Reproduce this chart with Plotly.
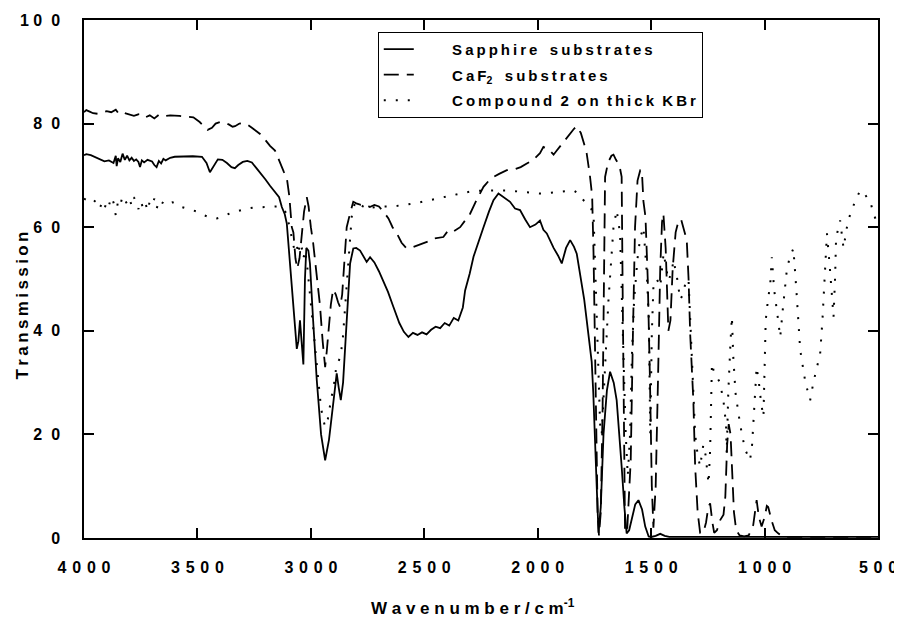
import plotly.graph_objects as go

# Sapphire substrates (solid line)
sapphire_wn = [4000, 3990, 3970, 3950, 3930, 3910, 3890, 3870, 3860, 3856, 3850, 3840, 3830, 3820, 3810,
               3800, 3790, 3780, 3770, 3760, 3753, 3745, 3735, 3720, 3700, 3690, 3680, 3670, 3660, 3650,
               3640, 3620, 3600, 3560, 3520, 3480, 3460, 3445, 3430, 3410, 3390, 3370, 3350, 3335, 3320,
               3300, 3280, 3260, 3240, 3220, 3200, 3180, 3160, 3140, 3128, 3115, 3106, 3095, 3084, 3072,
               3062, 3055, 3048, 3040, 3033, 3026, 3020, 3011, 3004, 2990, 2974, 2955, 2937, 2920, 2908,
               2896, 2886, 2877, 2868, 2858, 2849, 2838, 2827, 2813, 2800, 2783, 2768, 2754, 2739, 2720,
               2700, 2680, 2660, 2636, 2610, 2590, 2570, 2550, 2530, 2510, 2490, 2470, 2450, 2430, 2410,
               2390, 2370, 2350, 2330, 2320, 2300, 2283, 2260, 2239, 2215, 2195, 2173, 2150, 2122, 2100,
               2078, 2055, 2034, 2010, 1990, 1975, 1960, 1930, 1910, 1894, 1875, 1857, 1840, 1828, 1810,
               1795, 1784, 1770, 1762, 1755, 1747, 1740, 1732, 1722, 1710, 1695, 1681, 1665, 1652, 1640,
               1630, 1618, 1608, 1597, 1585, 1570, 1556, 1540, 1526, 1511, 1500, 1480, 1460, 1440, 1420,
               1400, 1300, 1200, 1100, 1000, 900, 800, 700, 600, 500]
sapphire_t = [73.9, 74.1, 73.9, 73.5, 73.0, 72.7, 72.9, 72.4, 73.8, 71.8, 73.3, 72.6, 74.2, 73.0, 73.8,
              72.9, 73.4, 72.8, 73.1, 72.6, 71.6, 72.9, 72.5, 73.0, 72.7, 72.0, 71.6, 72.8, 72.3, 73.2,
              72.9, 73.4, 73.6, 73.7, 73.7, 73.6, 72.4, 70.6, 71.8, 73.1, 73.0, 72.4, 71.6, 71.4, 72.0,
              72.6, 72.8, 72.5, 71.4, 70.4, 69.2, 68.0, 67.0, 65.8, 63.9, 62.5, 60.7, 55.0, 49.8, 42.0,
              36.5, 38.0, 42.0, 37.0, 33.5, 50.0, 56.0, 55.5, 53.0, 42.0, 30.5, 20.0, 15.0, 19.0, 24.0,
              29.0, 31.8, 29.0, 26.6, 30.0, 37.0, 46.0, 53.0, 55.9, 56.0, 55.5, 54.2, 53.3, 54.2, 53.2,
              51.5, 49.5, 47.5, 44.6, 41.5, 39.8, 38.8, 39.6, 39.2, 39.7, 39.3, 40.2, 40.8, 40.5, 41.5,
              41.0, 42.5, 42.0, 44.5, 47.8, 51.0, 54.3, 57.5, 60.0, 63.0, 65.2, 66.5, 65.8, 64.9, 63.6,
              63.3, 61.5, 60.0, 60.5, 61.3, 59.5, 58.8, 56.0, 54.5, 53.0, 56.0, 57.5, 56.2, 54.9, 50.0,
              46.0, 42.0, 37.5, 34.0, 28.0, 20.0, 10.0, 1.0, 6.0, 20.0, 28.5, 32.1, 30.0, 26.6, 20.0,
              13.8, 6.0, 0.9, 1.5, 3.5, 6.5, 7.3, 5.5, 2.2, 0.3, 0.2, 0.4, 0.8, 0.4, 0.2,
              0.2, 0.2, 0.2, 0.2, 0.2, 0.2, 0.2, 0.2, 0.2, 0.2]

# CaF2 substrates (dashed line)
caf2_wn = [4000, 3990, 3975, 3960, 3940, 3920, 3900, 3880, 3860, 3850, 3840, 3820, 3800, 3780, 3760,
           3747, 3730, 3710, 3690, 3670, 3650, 3620, 3580, 3540, 3518, 3490, 3470, 3455, 3436, 3420,
           3400, 3380, 3360, 3345, 3334, 3315, 3298, 3280, 3260, 3240, 3224, 3200, 3180, 3158, 3140,
           3120, 3106, 3095, 3084, 3077, 3068, 3060, 3050, 3040, 3030, 3018, 3010, 3000, 2990, 2980,
           2970, 2960, 2948, 2937, 2930, 2923, 2912, 2902, 2890, 2880, 2871, 2862, 2855, 2842, 2827,
           2813, 2800, 2780, 2760, 2740, 2720, 2700, 2680, 2658, 2640, 2621, 2600, 2580, 2560, 2540,
           2520, 2504, 2480, 2460, 2440, 2416, 2394, 2370, 2342, 2320, 2298, 2270, 2239, 2215, 2195,
           2170, 2136, 2100, 2075, 2048, 2020, 1990, 1975, 1950, 1930, 1916, 1895, 1875, 1857, 1840,
           1828, 1810, 1795, 1784, 1770, 1760, 1754, 1748, 1742, 1736, 1730, 1722, 1714, 1708, 1703,
           1690, 1675, 1666, 1655, 1640, 1630, 1625, 1620, 1615, 1605, 1590, 1580, 1571, 1560, 1548,
           1541, 1534, 1525, 1515, 1505, 1497, 1490, 1480, 1470, 1460, 1452, 1446, 1436, 1424, 1415,
           1405, 1392, 1379, 1368, 1356, 1343, 1335, 1328, 1314, 1306, 1295, 1284, 1270, 1258, 1248,
           1240, 1230, 1222, 1210, 1195, 1181, 1173, 1165, 1158, 1150, 1142, 1135, 1125, 1110, 1090,
           1070, 1050, 1042, 1035, 1025, 1013, 1000, 990, 984, 970, 955, 940, 920, 900, 800,
           700, 600, 500]
caf2_t = [82.2, 82.6, 82.3, 82.0, 81.9, 82.1, 82.4, 82.2, 82.7, 82.1, 82.4, 82.0, 81.8, 81.5, 81.8,
          81.3, 81.2, 81.6, 81.0, 81.7, 81.4, 81.6, 81.5, 81.3, 81.2, 80.3, 79.5, 78.8, 79.2, 80.0,
          80.3, 80.2, 79.8, 79.4, 79.5, 80.0, 80.1, 79.8, 79.2, 78.6, 78.0, 76.8, 75.7, 74.8, 72.8,
          70.8, 69.5, 66.0, 60.0, 59.0, 54.0, 52.0, 54.0, 58.0, 63.0, 65.8, 64.0, 60.0, 57.0, 53.0,
          49.0, 45.0, 38.0, 33.0, 36.0, 40.0, 45.0, 48.0, 47.0, 45.5, 44.6, 47.0, 52.0, 60.0, 62.7,
          64.9, 64.6, 64.3, 64.4, 63.9, 64.3, 64.0, 63.0, 61.7, 60.0, 58.8, 57.0, 56.0, 56.0, 56.3,
          56.6, 56.8, 57.3, 57.8, 58.0, 58.1, 59.4, 59.2, 60.0, 61.2, 62.6, 65.2, 67.8, 69.0, 69.7,
          70.3, 71.0, 71.2, 71.6, 72.3, 73.0, 74.3, 75.5, 75.0, 74.0, 74.8, 76.0, 77.0, 78.0, 79.0,
          79.5, 78.2, 76.0, 74.2, 70.0, 66.0, 55.0, 40.0, 20.0, 5.0, 0.5, 5.0, 25.0, 50.0, 69.7,
          72.5, 73.8, 74.0, 73.0, 72.0, 69.7, 45.0, 15.0, 1.0, 2.0, 15.0, 40.0, 60.0, 69.0, 71.0,
          71.0, 65.0, 62.0, 50.0, 30.0, 10.0, 2.0, 10.0, 30.0, 52.0, 61.0, 62.6, 56.0, 40.0, 42.0,
          52.0, 59.0, 61.3, 61.5, 59.5, 57.5, 50.0, 39.5, 26.6, 13.8, 5.0, 1.0, 1.0, 3.0, 6.0,
          6.7, 3.0, 1.0, 1.5, 3.5, 4.5, 8.0, 18.0, 22.0, 20.0, 12.0, 5.0, 1.5, 0.5, 0.3,
          0.5, 2.5, 5.5, 7.3, 4.0, 2.2, 4.0, 6.2, 6.0, 3.5, 1.5, 0.9, 0.3, 0.2, 0.2,
          0.2, 0.2, 0.2]

# Compound 2 on thick KBr (dotted line)
kbr_wn = [4000, 3990, 3975, 3960, 3950, 3940, 3930, 3920, 3910, 3900, 3890, 3880, 3870, 3860, 3850,
          3840, 3830, 3820, 3810, 3800, 3790, 3780, 3770, 3760, 3750, 3740, 3730, 3720, 3710, 3700,
          3690, 3680, 3670, 3660, 3650, 3630, 3610, 3590, 3570, 3540, 3500, 3470, 3440, 3415, 3390,
          3360, 3330, 3300, 3283, 3250, 3220, 3180, 3150, 3136, 3120, 3106, 3095, 3084, 3072, 3062,
          3055, 3048, 3040, 3033, 3025, 3015, 3000, 2985, 2970, 2955, 2938, 2925, 2910, 2900, 2886,
          2879, 2870, 2860, 2850, 2840, 2830, 2820, 2805, 2790, 2770, 2750, 2730, 2710, 2680, 2640,
          2600, 2560, 2520, 2480, 2440, 2416, 2380, 2330, 2280, 2239, 2190, 2136, 2090, 2040, 1990,
          1950, 1900, 1870, 1842, 1820, 1798, 1780, 1765, 1754, 1745, 1740, 1732, 1725, 1718, 1705,
          1695, 1688, 1675, 1666, 1652, 1637, 1625, 1612, 1603, 1593, 1585, 1575, 1560, 1548, 1534,
          1519, 1510, 1504, 1497, 1490, 1475, 1460, 1445, 1435, 1424, 1412, 1401, 1385, 1372, 1360,
          1345, 1335, 1321, 1306, 1295, 1284, 1270, 1260, 1247, 1240, 1232, 1225, 1210, 1196, 1180,
          1170, 1167, 1160, 1150, 1144, 1138, 1128, 1115, 1100, 1085, 1064, 1055, 1049, 1040, 1035,
          1025, 1015, 1005, 998, 995, 985, 975, 968, 958, 946, 931, 920, 910, 902, 890,
          873, 860, 843, 820, 799, 785, 770, 755, 745, 733, 725, 712, 696, 689, 685,
          675, 667, 652, 637, 620, 600, 579, 560, 545, 535, 520, 510, 500]
kbr_t = [65.5, 65.3, 65.0, 64.6, 65.2, 64.0, 63.8, 64.6, 63.5, 65.0, 64.2, 65.8, 64.8, 62.3, 65.0,
         64.3, 66.0, 65.2, 64.5, 65.5, 64.2, 65.8, 64.6, 63.5, 65.0, 63.8, 64.8, 63.2, 65.0, 64.4,
         65.5, 63.6, 64.8, 64.2, 65.0, 64.5, 64.8, 64.6, 63.9, 63.5, 63.0, 62.3, 61.8, 61.7, 62.0,
         62.6, 63.0, 63.4, 63.6, 63.8, 63.9, 64.0, 64.0, 63.9, 63.5, 62.5, 60.0, 58.0, 55.5, 56.5,
         54.8, 57.0, 56.0, 54.0, 55.5, 52.0, 45.0, 38.0, 31.0, 25.0, 21.5, 23.0, 27.0, 29.0, 33.7,
         34.0, 35.0, 38.0, 44.0, 50.0, 57.0, 62.0, 64.9, 64.6, 64.0, 63.5, 63.8, 63.9, 64.0, 64.0,
         64.2, 64.5, 64.8, 65.2, 65.6, 65.8, 66.2, 66.6, 67.0, 67.1, 67.1, 67.1, 66.9, 66.8, 66.5,
         66.6, 66.8, 67.0, 67.1, 66.5, 65.2, 64.5, 63.6, 62.6, 50.0, 39.5, 30.0, 22.0, 20.0, 30.0,
         40.0, 46.0, 55.0, 60.0, 63.3, 58.8, 40.0, 20.0, 12.0, 20.0, 35.0, 46.0, 54.0, 58.0, 60.0,
         51.0, 42.0, 20.0, 39.5, 48.5, 50.0, 48.5, 55.0, 52.0, 49.7, 51.0, 53.6, 50.0, 46.0, 47.0,
         50.0, 49.7, 35.6, 20.0, 16.0, 13.8, 18.0, 16.0, 10.5, 17.0, 33.7, 32.4, 31.0, 30.0, 26.0,
         22.0, 16.3, 28.0, 38.0, 42.7, 35.0, 28.0, 24.0, 20.0, 17.0, 15.0, 18.0, 22.8, 30.0, 33.0,
         30.0, 26.0, 23.4, 33.7, 42.0, 46.0, 49.0, 54.2, 48.0, 44.0, 38.8, 44.0, 48.0, 51.7, 54.0,
         55.9, 48.0, 36.3, 30.0, 26.6, 30.0, 33.0, 35.6, 42.0, 51.7, 58.8, 52.0, 42.7, 50.4, 57.5,
         60.0, 61.3, 56.0, 60.0, 63.0, 65.0, 67.1, 66.5, 65.5, 65.2, 62.6, 61.5, 61.0]

x_ticks = [4000, 3500, 3000, 2500, 2000, 1500, 1000, 500]
y_ticks = [0, 20, 40, 60, 80, 100]

NB = "\u00a0"
TH = "\u2009"
HS = "\u200a"


def spaced(s, sep=TH):
    # spread the letters out like the scanned figure
    return sep.join(s)


x_labels = [spaced(str(v), NB + HS) for v in x_ticks]
y_labels = ["0", "2" + NB * 2 + "0", "4" + NB * 2 + "0", "6" + NB * 2 + "0", "8" + NB * 2 + "0",
            "1" + NB + "0" + NB * 2 + "0"]

gap = NB * 3
lead = NB * 8
names = [
    lead + spaced("Sapphire") + gap + spaced("substrates"),
    lead + spaced("CaF") + "<sub>2</sub>" + gap + spaced("substrates"),
    lead + spaced("Compound") + NB * 2 + "2" + NB * 2 + spaced("on") + NB * 2 + spaced("thick") + NB * 2 + spaced("KBr"),
]

fig = go.Figure()
fig.add_trace(go.Scatter(x=sapphire_wn, y=sapphire_t, mode="lines", name=names[0], legendgroup="a",
                         line=dict(color="black", width=1.8)))
fig.add_trace(go.Scatter(x=caf2_wn, y=caf2_t, mode="lines", name=names[1], legendgroup="b",
                         line=dict(color="black", width=1.8, dash="15px,8px")))
fig.add_trace(go.Scatter(x=kbr_wn, y=kbr_t, mode="lines", name=names[2], legendgroup="c",
                         line=dict(color="black", width=2, dash="2px,10px")))

axis_font = dict(family="Liberation Sans, Arial, sans-serif", size=16, color="black", weight="bold")

# the page body adds an 8px offset, so the margins are shifted to compensate
fig.update_layout(
    width=902, height=626,
    margin=dict(l=76, r=32, t=12, b=96),
    paper_bgcolor="white", plot_bgcolor="white",
    font=dict(family="Liberation Sans, Arial, sans-serif", color="black"),
    showlegend=True,
    legend=dict(x=0.37, y=0.977, xanchor="left", yanchor="top",
                bordercolor="black", borderwidth=1, bgcolor="white",
                font=dict(size=15, weight="bold", family="Liberation Sans, Arial, sans-serif"),
                tracegroupgap=3),
    xaxis=dict(range=[4000, 500], tickvals=x_ticks, ticktext=x_labels, tickfont=axis_font,
               ticks="inside", ticklen=10, tickwidth=1.5, tickcolor="black",
               showline=True, linecolor="black", linewidth=1.5, mirror="ticks",
               showgrid=False, zeroline=False, ticklabelstandoff=14, automargin=False),
    yaxis=dict(range=[0, 100], tickvals=y_ticks, ticktext=y_labels, tickfont=axis_font,
               ticks="inside", ticklen=10, tickwidth=1.5, tickcolor="black",
               showline=True, linecolor="black", linewidth=1.5, mirror="ticks",
               showgrid=False, zeroline=False, ticklabelstandoff=19, automargin=False),
    annotations=[
        dict(text="<b>" + spaced("Wavenumber/cm", NB) + "<sup>-1</sup></b>", xref="paper", yref="paper",
             x=0.49, y=-0.133, xanchor="center", yanchor="middle", showarrow=False,
             font=dict(size=17, color="black")),
        dict(text="<b>" + spaced("Transmission") + "</b>", xref="paper", yref="paper",
             x=-0.078, y=0.449, xanchor="center", yanchor="middle", showarrow=False, textangle=-90,
             font=dict(size=17, color="black")),
    ],
)

fig.write_html("out.html")
